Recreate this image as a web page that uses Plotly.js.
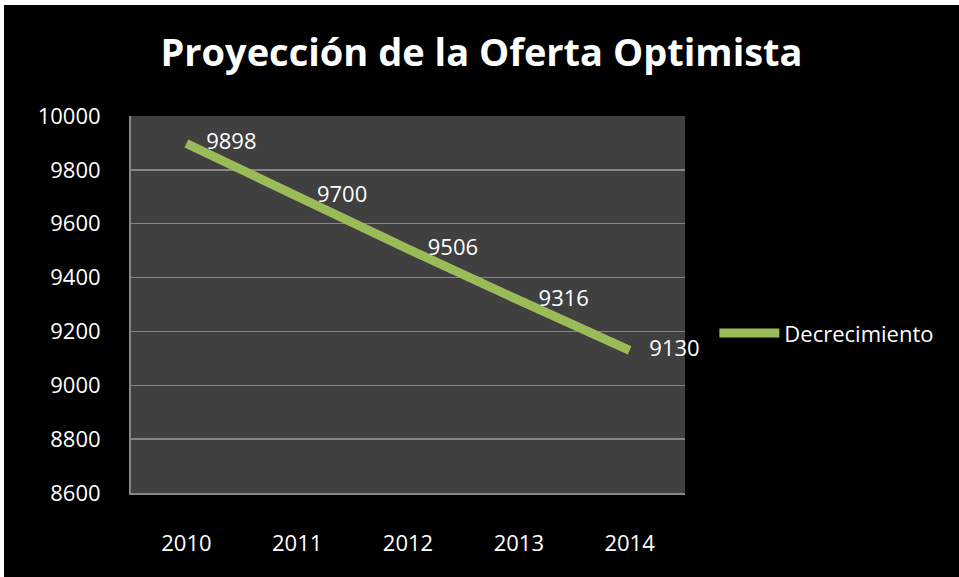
<!DOCTYPE html>
<html>
<head>
<meta charset="utf-8">
<script src="https://cdn.plot.ly/plotly-3.0.1.min.js"></script>
<style>
html,body{margin:0;padding:0;background:#ffffff;}
#chart{position:absolute;left:4px;top:5px;width:955px;height:572px;}
</style>
</head>
<body>
<div id="chart"></div>
<script>
var years = ['2010', '2011', '2012', '2013', '2014'];
var decrecimiento = [9898, 9700, 9506, 9316, 9130];
var labels = ['9898', '9700', '9506', '9316', '9130'];
var seriesName = 'Decrecimiento';
var chartTitle = 'Proyección de la Oferta Optimista';

var FONT = 'Open Sans, sans-serif';

var trace = {
  x: years,
  y: decrecimiento,
  type: 'scatter',
  mode: 'lines+markers+text',
  name: seriesName,
  text: labels,
  textposition: 'middle right',
  textfont: {family: FONT, size: 22, color: '#ffffff'},
  line: {color: '#9BBB59', width: 9},
  marker: {size: 30, color: 'rgba(0,0,0,0)'},
  cliponaxis: false,
  hoverinfo: 'x+y'
};

var layout = {
  width: 955,
  height: 572,
  paper_bgcolor: '#000000',
  plot_bgcolor: '#404040',
  margin: {l: 127, r: 274, t: 111, b: 84},
  title: {
    text: '<b>' + chartTitle + '</b>',
    font: {family: FONT, size: 38, color: '#ffffff'},
    x: 0.5, xanchor: 'center', xref: 'container',
    y: 0.916, yanchor: 'middle', yref: 'container'
  },
  xaxis: {
    type: 'category',
    range: [-0.5, 4.5],
    showgrid: false,
    showline: true,
    linecolor: '#868686',
    linewidth: 2,
    ticks: '',
    ticklabelstandoff: 30,
    tickfont: {family: FONT, size: 22, color: '#ffffff'},
    fixedrange: true
  },
  yaxis: {
    range: [8600, 10000],
    dtick: 200,
    tick0: 8600,
    tickformat: 'd',
    showgrid: true,
    gridcolor: '#868686',
    gridwidth: 1.5,
    zeroline: false,
    showline: true,
    linecolor: '#868686',
    linewidth: 2,
    ticks: '',
    ticklabelstandoff: 24,
    tickfont: {family: FONT, size: 22, color: '#ffffff'},
    fixedrange: true
  },
  showlegend: true,
  legend: {
    x: 1.053, xanchor: 'left',
    y: 0.424, yanchor: 'middle',
    itemwidth: 60,
    bgcolor: 'rgba(0,0,0,0)',
    font: {family: FONT, size: 22, color: '#ffffff'}
  }
};

Plotly.newPlot('chart', [trace], layout, {displayModeBar: false, staticPlot: true});
</script>
</body>
</html>
